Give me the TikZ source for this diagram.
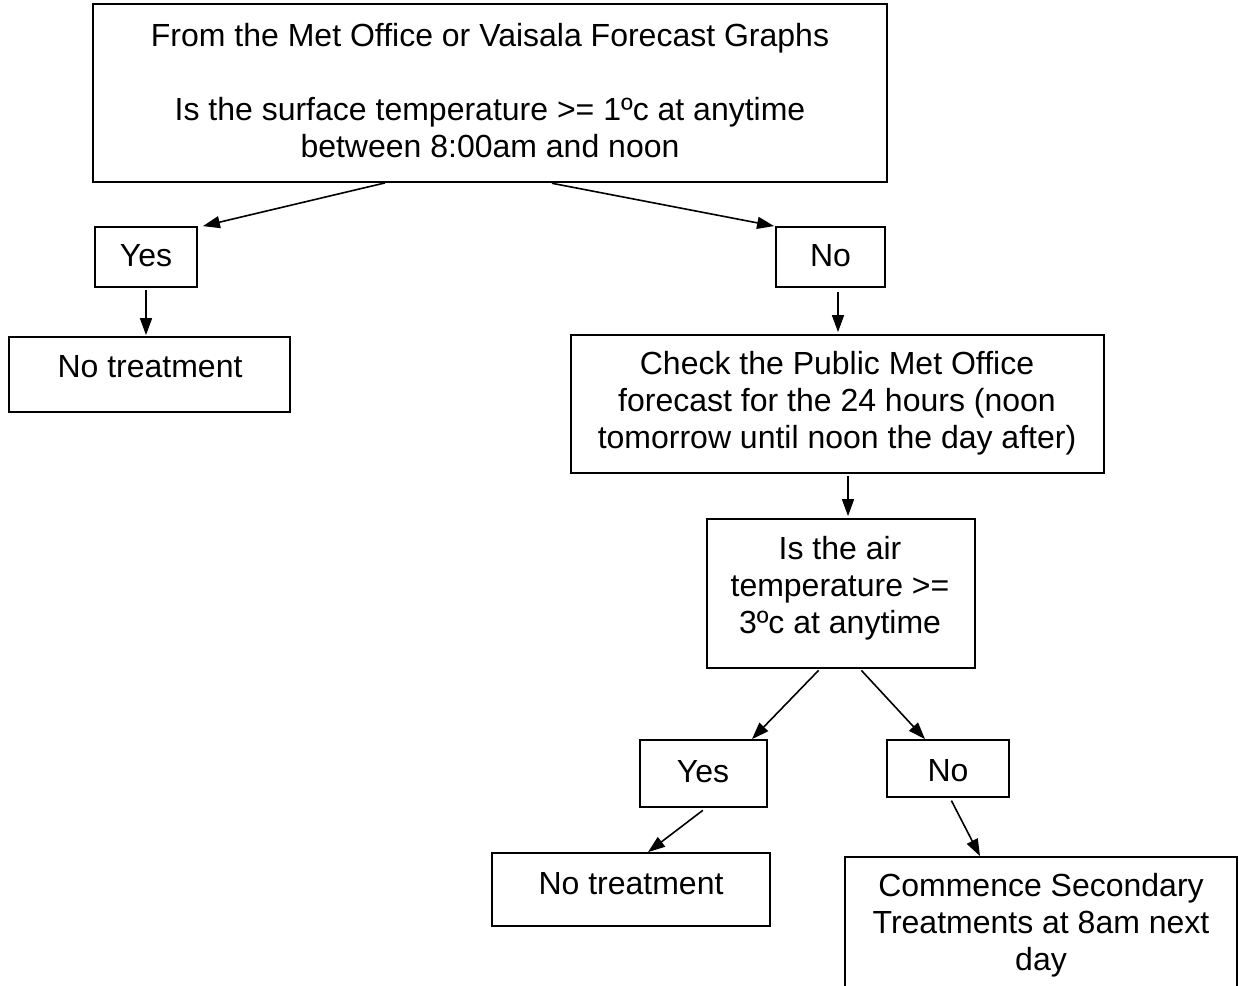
\documentclass[tikz,border=0pt]{standalone}
\usepackage{fontspec}
\setmainfont{Liberation Sans}
\usetikzlibrary{arrows.meta}
\begin{document}
\begin{tikzpicture}[x=1pt,y=-1pt,
  box/.style={draw=black,line width=1.8pt,rectangle,inner sep=0pt},
  txt/.style={align=center,inner sep=0pt,font=\fontsize{32}{37}\selectfont},
  arr/.style={draw=black,line width=1.6pt,-{Triangle[length=17pt,width=12pt]}}]
\useasboundingbox[fill=white] (0,0) rectangle (1239,985);
% boxes
\node[box,minimum width=794pt,minimum height=178pt] (top) at (490,93) {};
\node[txt] (topt) at (490,91) {From the Met Office or Vaisala Forecast Graphs\\[37pt]Is the surface temperature >= 1ºc at anytime\\between 8:00am and noon};
\node[box,minimum width=102pt,minimum height=60pt] (yes1) at (146,257) {};
\node[txt] (yes1t) at (146,256) {Yes};
\node[box,minimum width=109pt,minimum height=60pt] (no1) at (830.5,257) {};
\node[txt] (no1t) at (830.5,256) {No};
\node[box,minimum width=281pt,minimum height=75pt] (nt1) at (149.5,374.5) {};
\node[txt] (nt1t) at (150,367) {No treatment};
\node[box,minimum width=533pt,minimum height=138pt] (chk) at (837.5,404) {};
\node[txt] (chkt) at (837,403) {Check the Public Met Office\\forecast for the 24 hours (noon\\tomorrow until noon the day after)};
\node[box,minimum width=268pt,minimum height=149pt] (air) at (841,593.5) {};
\node[txt] (airt) at (840,588) {Is the air\\temperature >=\\3ºc at anytime};
\node[box,minimum width=127pt,minimum height=67pt] (yes2) at (703.5,773.5) {};
\node[txt] (yes2t) at (703,772) {Yes};
\node[box,minimum width=122pt,minimum height=57pt] (no2) at (948,768.5) {};
\node[txt] (no2t) at (948,771) {No};
\node[box,minimum width=278pt,minimum height=73pt] (nt2) at (631,889.5) {};
\node[txt] (nt2t) at (631,884) {No treatment};
\node[box,minimum width=392pt,minimum height=153pt] (com) at (1041,933.5) {};
\node[txt] (comt) at (1041,925) {Commence Secondary\\Treatments at 8am next\\day};
% connectors
\draw[arr] (385,0 |- top.south) -- ([xshift=5pt]yes1.north east);
\draw[arr,shorten <=2pt] (550,0 |- top.south) -- ([xshift=-1pt]no1.north west);
\draw[arr,shorten <=2pt,shorten >=1pt] (yes1.south) -- (yes1.south |- nt1.north);
\draw[arr,shorten <=4pt,shorten >=2pt] (838,0 |- no1.south) -- (838,0 |- chk.north);
\draw[arr,shorten <=2pt,shorten >=2pt] (848,0 |- chk.south) -- (848,0 |- air.north);
\draw[arr,shorten <=2pt] (820,0 |- air.south) -- (752,0 |- yes2.north);
\draw[arr,shorten <=2pt] (860,0 |- air.south) -- (925,0 |- no2.north);
\draw[arr,shorten <=4pt] (706,0 |- yes2.south) -- (648,0 |- nt2.north);
\draw[arr,shorten <=3pt] (950,0 |- no2.south) -- (980,0 |- com.north);
\end{tikzpicture}
\end{document}
